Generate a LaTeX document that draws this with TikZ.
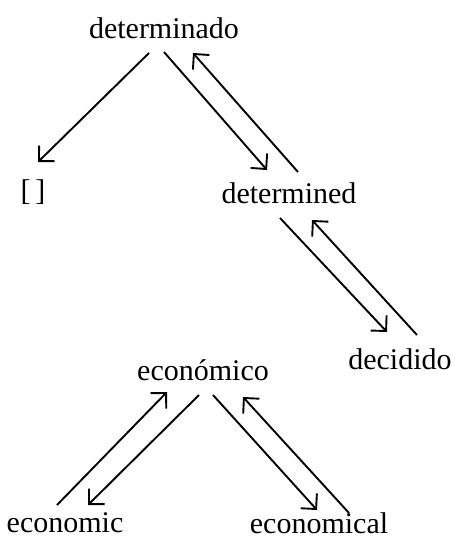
\documentclass[tikz,border=0pt]{standalone}
\usepackage{fontspec}
\setmainfont{Liberation Serif}
\usetikzlibrary{arrows.meta}
\begin{document}
\begin{tikzpicture}[x=1pt,y=-1pt,
  word/.style={anchor=base,inner sep=0pt,font=\fontsize{30}{36}\selectfont},
  arr/.style={line width=1.9pt,-{Straight Barb[angle'=90,length=11pt,line width=1.9pt]}}]
\useasboundingbox (0,0) rectangle (463,547);
\node[word] (A) at (164,38) {determinado};
\node[word] (B) at (33,200) {[\,]};
\node[word] (C) at (289,203) {determined};
\node[word] (D) at (400,369) {decidido};
\node[word] (E) at (203,380) {económico};
\node[word] (F) at (65,532) {economic};
\node[word] (G) at (319,533) {economical};
% determinado group
\draw[arr] ([shift={(-15,15)}]A.base) -- ([shift={(5,-38)}]B.base);
\draw[arr] ([shift={(0,14)}]A.base) -- ([shift={(-22,-33)}]C.base);
\draw[arr] ([shift={(9,-31)}]C.base) -- ([shift={(29,15)}]A.base);
\draw[arr] ([shift={(-9,15)}]C.base) -- ([shift={(-13,-37)}]D.base);
\draw[arr] ([shift={(17,-34)}]D.base) -- ([shift={(23,17)}]C.base);
% económico group
\draw[arr] ([shift={(-8,-27)}]F.base) -- ([shift={(-36,12)}]E.base);
\draw[arr] ([shift={(-4,15)}]E.base) -- ([shift={(23,-27)}]F.base);
\draw[arr] ([shift={(10,15)}]E.base) -- ([shift={(-2,-23)}]G.base);
\draw[arr] ([shift={(30,-20)}]G.base) -- ([shift={(40,17)}]E.base);
\end{tikzpicture}
\end{document}
